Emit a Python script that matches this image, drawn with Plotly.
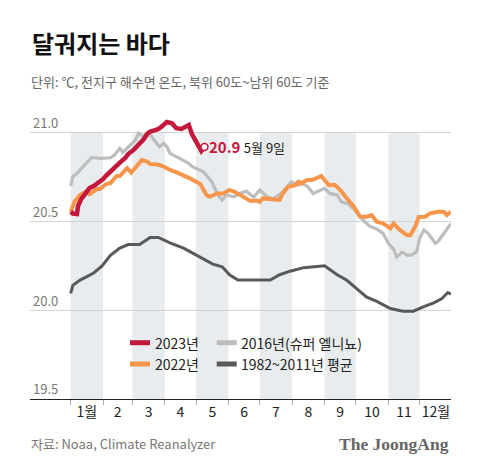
import plotly.graph_objects as go

# ---- data (x = day of year, Jan 1 = 0) ----
MONTH_STARTS = [0, 31, 59, 90, 120, 151, 181, 212, 243, 273, 304, 334, 365]
MONTH_LABELS = ["1월", "2", "3", "4", "5", "6", "7", "8", "9", "10", "11", "12월"]
Y_TICKS = [19.5, 20.0, 20.5, 21.0]
Y_TICK_TEXT = ["19.5", "20.0", "20.5", "21.0"]

DAYS_AVG = [0, 2, 9, 22, 30, 38, 47, 55, 66, 76, 84, 95, 108, 117, 127, 136, 145, 152, 160, 172,
            181, 191, 200, 210, 223, 240, 243, 255, 264, 274, 283, 293, 306, 318, 328, 338, 347, 355, 361, 364]
VAL_AVG = [20.095, 20.14, 20.17, 20.21, 20.25, 20.31, 20.35, 20.37, 20.37, 20.41, 20.41, 20.38, 20.35, 20.32,
           20.29, 20.26, 20.245, 20.20, 20.17, 20.17, 20.17, 20.17, 20.20, 20.22, 20.24, 20.25, 20.25, 20.20,
           20.17, 20.12, 20.075, 20.05, 20.01, 19.995, 19.995, 20.02, 20.04, 20.065, 20.10, 20.09]

DAYS_2016 = [0, 2, 6, 9, 14, 20, 28, 38, 42, 47, 50, 55, 62, 65, 68, 73, 76, 79, 85, 89, 92, 95, 105, 111,
             117, 127, 135, 141, 145, 149, 156, 162, 168, 175, 181, 188, 194, 203, 211, 218, 221, 227, 232,
             239, 243, 248, 255, 259, 266, 272, 280, 286, 293, 299, 304, 309, 312, 317, 322, 326, 331, 334,
             338, 342, 349, 352, 357, 361, 364]
VAL_2016 = [20.70, 20.752, 20.771, 20.79, 20.828, 20.861, 20.856, 20.859, 20.874, 20.912, 20.89, 20.921,
            20.959, 20.997, 20.983, 20.977, 20.993, 20.964, 20.921, 20.94, 20.921, 20.884, 20.856, 20.835,
            20.807, 20.78, 20.724, 20.649, 20.621, 20.649, 20.639, 20.658, 20.671, 20.638, 20.677, 20.639,
            20.626, 20.666, 20.724, 20.705, 20.715, 20.696, 20.658, 20.677, 20.687, 20.658, 20.649, 20.611,
            20.598, 20.564, 20.508, 20.474, 20.457, 20.433, 20.377, 20.344, 20.30, 20.327, 20.311, 20.311,
            20.329, 20.405, 20.452, 20.433, 20.377, 20.39, 20.429, 20.461, 20.489]

DAYS_2022 = [0, 4, 9, 14, 18, 25, 28, 34, 38, 44, 47, 54, 58, 63, 68, 73, 76, 81, 85, 90, 95, 101, 108, 114,
             124, 130, 133, 140, 146, 152, 157, 162, 168, 172, 178, 181, 184, 194, 200, 203, 208, 215, 218,
             221, 226, 231, 235, 240, 243, 247, 253, 258, 264, 271, 277, 283, 288, 293, 299, 306, 309, 315,
             322, 325, 330, 333, 339, 344, 352, 357, 360, 364]
VAL_2022 = [20.555, 20.615, 20.649, 20.667, 20.654, 20.683, 20.683, 20.711, 20.716, 20.756, 20.756, 20.80,
            20.776, 20.807, 20.846, 20.837, 20.824, 20.822, 20.818, 20.807, 20.79, 20.778, 20.762, 20.743,
            20.711, 20.649, 20.639, 20.658, 20.658, 20.677, 20.667, 20.649, 20.626, 20.615, 20.618, 20.611,
            20.63, 20.621, 20.621, 20.658, 20.696, 20.705, 20.724, 20.715, 20.733, 20.733, 20.743, 20.756,
            20.733, 20.705, 20.705, 20.677, 20.632, 20.583, 20.526, 20.526, 20.536, 20.498, 20.489, 20.461,
            20.489, 20.452, 20.423, 20.423, 20.474, 20.525, 20.526, 20.546, 20.555, 20.555, 20.536, 20.555]

DAYS_2023 = [0, 2, 6, 7, 10, 15, 18, 22, 25, 28, 31, 34, 39, 42, 47, 52, 55, 60, 65, 70, 73, 76, 81, 84,
             87, 92, 97, 101, 106, 111, 113, 116, 119, 122, 125, 128]
VAL_2023 = [20.555, 20.545, 20.542, 20.587, 20.626, 20.666, 20.688, 20.70, 20.711, 20.722, 20.739, 20.759,
            20.787, 20.812, 20.832, 20.857, 20.88, 20.902, 20.931, 20.964, 20.993, 21.006, 21.015, 21.021,
            21.034, 21.06, 21.053, 21.026, 21.021, 21.034, 21.043, 20.993, 20.959, 20.919, 20.897, 20.92]

SERIES = [
    ("1982~2011년 평균", DAYS_AVG, VAL_AVG, "#595959", 3),
    ("2016년(슈퍼 엘니뇨)", DAYS_2016, VAL_2016, "#bdbdbd", 3.2),
    ("2022년", DAYS_2022, VAL_2022, "#f7964b", 4),
    ("2023년", DAYS_2023, VAL_2023, "#c4173c", 4.5),
]
COLORS = {name: c for name, _, _, c, _ in SERIES}

FONT = "Noto Sans CJK KR, Noto Sans, sans-serif"

fig = go.Figure()
for name, xs, ys, color, w in SERIES:
    fig.add_trace(go.Scatter(x=xs, y=ys, mode="lines", name=name,
                             line=dict(color=color, width=w), showlegend=False))

# end marker for 2023
fig.add_trace(go.Scatter(x=[DAYS_2023[-1]], y=[VAL_2023[-1]], mode="markers", showlegend=False,
                         marker=dict(symbol="circle", size=7, color="white",
                                     line=dict(color=COLORS["2023년"], width=1.5))))

shapes = []
# alternating month bands
for i in range(0, 12, 2):
    shapes.append(dict(type="rect", xref="x", yref="y", x0=MONTH_STARTS[i], x1=MONTH_STARTS[i + 1],
                       y0=19.5, y1=21.0, fillcolor="#e8ecef", line=dict(width=0), layer="below"))
# white background behind legend
shapes.append(dict(type="rect", xref="paper", yref="paper", x0=0.19, x1=0.83, y0=0.062, y1=0.2526,
                   fillcolor="white", line=dict(width=0), layer="below"))

# manual legend
leg = [("2023년", 0.2375, 0.1948), ("2016년(슈퍼 엘니뇨)", 0.4435, 0.1948),
       ("2022년", 0.2375, 0.1211), ("1982~2011년 평균", 0.4435, 0.1211)]
annotations = []
for name, lx, ly in leg:
    shapes.append(dict(type="line", xref="paper", yref="paper", x0=lx, x1=lx + 0.0475, y0=ly, y1=ly,
                       line=dict(color=COLORS[name], width=5)))
    annotations.append(dict(xref="paper", yref="paper", x=lx + 0.054, y=ly, text=name, showarrow=False,
                            xanchor="left", yanchor="middle", font=dict(family=FONT, size=14, color="#222")))

# end label
annotations.append(dict(xref="x", yref="y", x=DAYS_2023[-1], y=VAL_2023[-1], xanchor="left", yanchor="middle",
                        xshift=3, showarrow=False,
                        text="<b>20.9</b> <span style='color:#222;font-size:13px'>5월 9일</span>",
                        font=dict(family=FONT, size=15, color=COLORS["2023년"])))

# titles and credits
annotations += [
    dict(xref="paper", yref="paper", x=0, y=1.232, xanchor="left", yanchor="middle", showarrow=False,
         text="<b>달궈지는 바다</b>", font=dict(family=FONT, size=24, color="#111")),
    dict(xref="paper", yref="paper", x=-0.003, y=1.1003, xanchor="left", yanchor="middle", showarrow=False,
         text="단위: ℃, 전지구 해수면 온도, 북위 60도~남위 60도 기준",
         font=dict(family=FONT, size=13, color="#666")),
    dict(xref="paper", yref="paper", x=-0.003, y=-0.1557, xanchor="left", yanchor="middle", showarrow=False,
         text="자료: Noaa, Climate Reanalyzer", font=dict(family=FONT, size=13, color="#777")),
    dict(xref="paper", yref="paper", x=1.0, y=-0.1557, xanchor="right", yanchor="middle", showarrow=False,
         text="<b>The JoongAng</b>", font=dict(family="Liberation Serif, DejaVu Serif, serif", size=17.5,
                                               color="#666")),
]

month_centers = [(MONTH_STARTS[i] + MONTH_STARTS[i + 1]) / 2 for i in range(12)]

# page body has an 8px margin, so the figure is sized/offset to fill the 480x473 window
fig.update_layout(
    width=472, height=465,
    margin=dict(l=22, r=29, t=102, b=74),
    paper_bgcolor="white", plot_bgcolor="white",
    font=dict(family=FONT, color="#222"),
    showlegend=False,
    shapes=shapes, annotations=annotations,
    xaxis=dict(range=[-38.96, 364.0], tickmode="array", tickvals=month_centers, ticktext=MONTH_LABELS,
               ticks="", showgrid=False, zeroline=False, showline=True, linecolor="#222", linewidth=1.2,
               tickfont=dict(family=FONT, size=14, color="#222"),
               minor=dict(tickmode="array", tickvals=MONTH_STARTS[:-1], ticks="outside", ticklen=5,
                          tickcolor="#aaa", tickwidth=1, showgrid=False)),
    yaxis=dict(range=[19.5, 21.128], tickmode="array", tickvals=Y_TICKS, ticktext=Y_TICK_TEXT,
               ticks="", ticklabelposition="inside top", showgrid=True, gridcolor="#d4d4d4", gridwidth=1,
               zeroline=False, showline=False, tickfont=dict(family=FONT, size=13, color="#777")),
)

fig.write_html("out.html")
